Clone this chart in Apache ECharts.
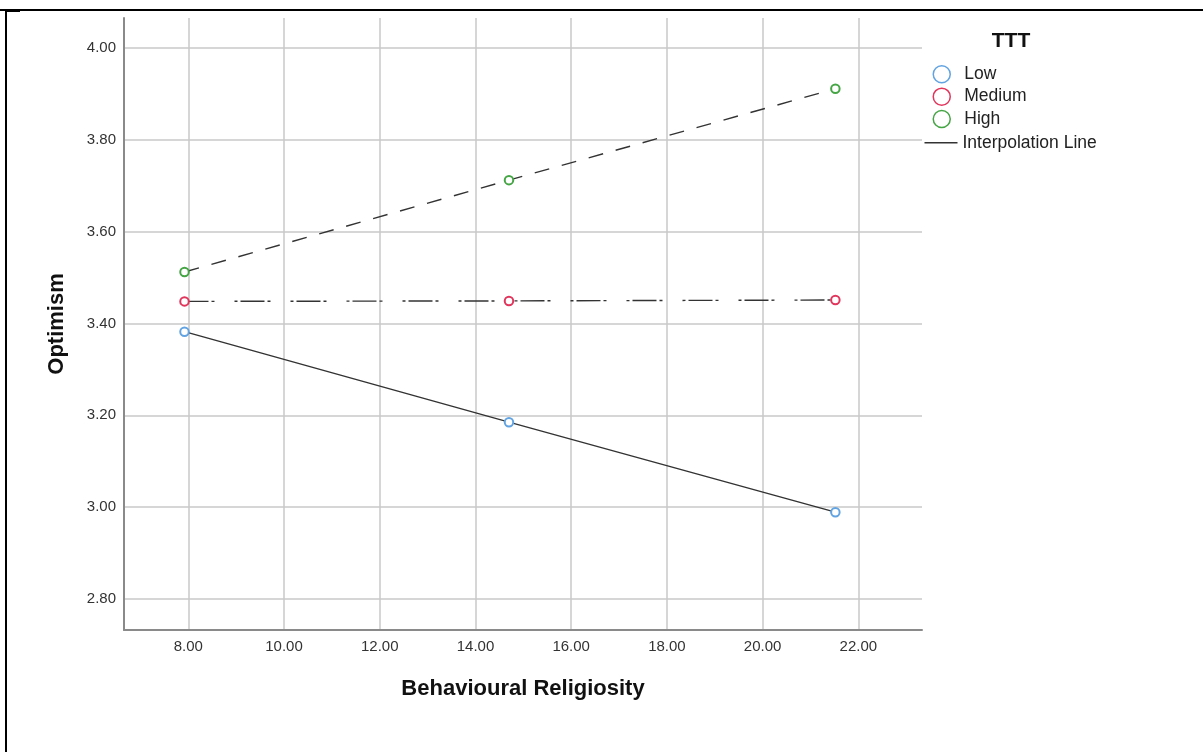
<!DOCTYPE html>
<html>
<head>
<meta charset="utf-8">
<title>Optimism by Behavioural Religiosity</title>
<script src="https://cdn.jsdelivr.net/npm/echarts@6/dist/echarts.min.js"></script>
<style>
  html, body { margin: 0; padding: 0; background: #fff; }
  #chart { width: 1203px; height: 752px; }
</style>
</head>
<body>
<div id="chart"></div>
<script>
// Moderator groups (TTT) and their estimated means
const groups = ['Low', 'Medium', 'High'];
const religiosity = [7.92, 14.70, 21.52];
const lowValues = [3.382, 3.185, 2.989];
const mediumValues = [3.448, 3.449, 3.451];
const highValues = [3.512, 3.712, 3.911];

const groupColors = ['#62a3e2', '#e2355c', '#45a545'];
const lineDashes = ['solid', [24, 3, 3, 20, 3, 3], [15, 13]];
const seriesValues = [lowValues, mediumValues, highValues];

const FONT = '"Liberation Sans", Arial, sans-serif';

const chart = echarts.init(document.getElementById('chart'), null, { renderer: 'canvas' });

const lineSeries = groups.map((name, i) => ({
  name: name,
  type: 'line',
  data: religiosity.map((x, j) => [x, seriesValues[i][j]]),
  symbol: 'emptyCircle',
  symbolSize: 8.5,
  showAllSymbol: true,
  itemStyle: { color: groupColors[i], borderColor: groupColors[i], borderWidth: 1.5 },
  lineStyle: { color: '#333', width: 1.4, type: lineDashes[i] },
  emphasis: { disabled: true },
  z: 3
}));

chart.setOption({
  animation: false,
  textStyle: { fontFamily: FONT },
  grid: { left: 124, right: 281, top: 18, bottom: 122, containLabel: false },
  title: {
    text: 'TTT',
    left: 1006, top: 26, textAlign: 'center',
    textStyle: { fontSize: 21, fontWeight: 'bold', color: '#111', fontFamily: FONT }
  },
  legend: [
    {
      data: groups.map((g, i) => ({
        name: g,
        icon: 'circle',
        itemStyle: { color: '#fff', borderColor: groupColors[i], borderWidth: 1.5 }
      })),
      orient: 'vertical',
      left: 927.5, top: 60,
      itemWidth: 35, itemHeight: 17, itemGap: 3.9,
      selectedMode: false,
      textStyle: { fontSize: 17.5, color: '#222', fontFamily: FONT, lineHeight: 18 }
    },
    {
      data: [{ name: 'Interpolation Line', icon: 'rect', itemStyle: { color: '#333' } }],
      orient: 'vertical',
      left: 919.5, top: 128.7,
      itemWidth: 33, itemHeight: 1.5,
      selectedMode: false,
      textStyle: { fontSize: 17.5, color: '#222', fontFamily: FONT, lineHeight: 18 }
    }
  ],
  xAxis: {
    type: 'value',
    min: 6.656, max: 23.33,
    minInterval: 2, maxInterval: 2, splitNumber: 8,
    name: 'Behavioural Religiosity',
    nameLocation: 'middle', nameGap: 48,
    nameTextStyle: { fontSize: 22, fontWeight: 'bold', color: '#111', fontFamily: FONT },
    axisLine: { show: true, lineStyle: { color: '#8a8a8a', width: 2 } },
    axisTick: { show: false },
    axisLabel: {
      showMinLabel: false, showMaxLabel: false, margin: 9,
      fontSize: 15, color: '#333', fontFamily: FONT,
      formatter: v => v.toFixed(2)
    },
    splitLine: { show: true, showMinLine: false, showMaxLine: false, lineStyle: { color: '#c8c8c8', width: 1.5 } }
  },
  yAxis: {
    type: 'value',
    min: 2.7325, max: 4.065,
    minInterval: 0.2, maxInterval: 0.2, splitNumber: 7,
    name: 'Optimism',
    nameLocation: 'middle', nameGap: 56,
    nameTextStyle: { fontSize: 22, fontWeight: 'bold', color: '#111', fontFamily: FONT },
    axisLine: { show: true, lineStyle: { color: '#8a8a8a', width: 2 } },
    axisTick: { show: false },
    axisLabel: {
      showMinLabel: false, showMaxLabel: false, margin: 8,
      fontSize: 15, color: '#333', fontFamily: FONT,
      formatter: v => v.toFixed(2)
    },
    splitLine: { show: true, showMinLine: false, showMaxLine: false, lineStyle: { color: '#c8c8c8', width: 1.5 } }
  },
  series: lineSeries.concat([{
    name: 'Interpolation Line',
    type: 'line',
    data: [],
    symbol: 'none',
    lineStyle: { color: '#333', width: 1.4 }
  }]),
  graphic: [
    // outer frame edges
    { type: 'line', shape: { x1: 0, y1: 10, x2: 1203, y2: 10 }, style: { stroke: '#000', lineWidth: 2 }, silent: true },
    { type: 'line', shape: { x1: 6, y1: 10, x2: 6, y2: 752 }, style: { stroke: '#000', lineWidth: 2 }, silent: true },
    { type: 'line', shape: { x1: 6, y1: 11, x2: 20, y2: 11 }, style: { stroke: '#000', lineWidth: 2 }, silent: true }
  ]
});
</script>
</body>
</html>
